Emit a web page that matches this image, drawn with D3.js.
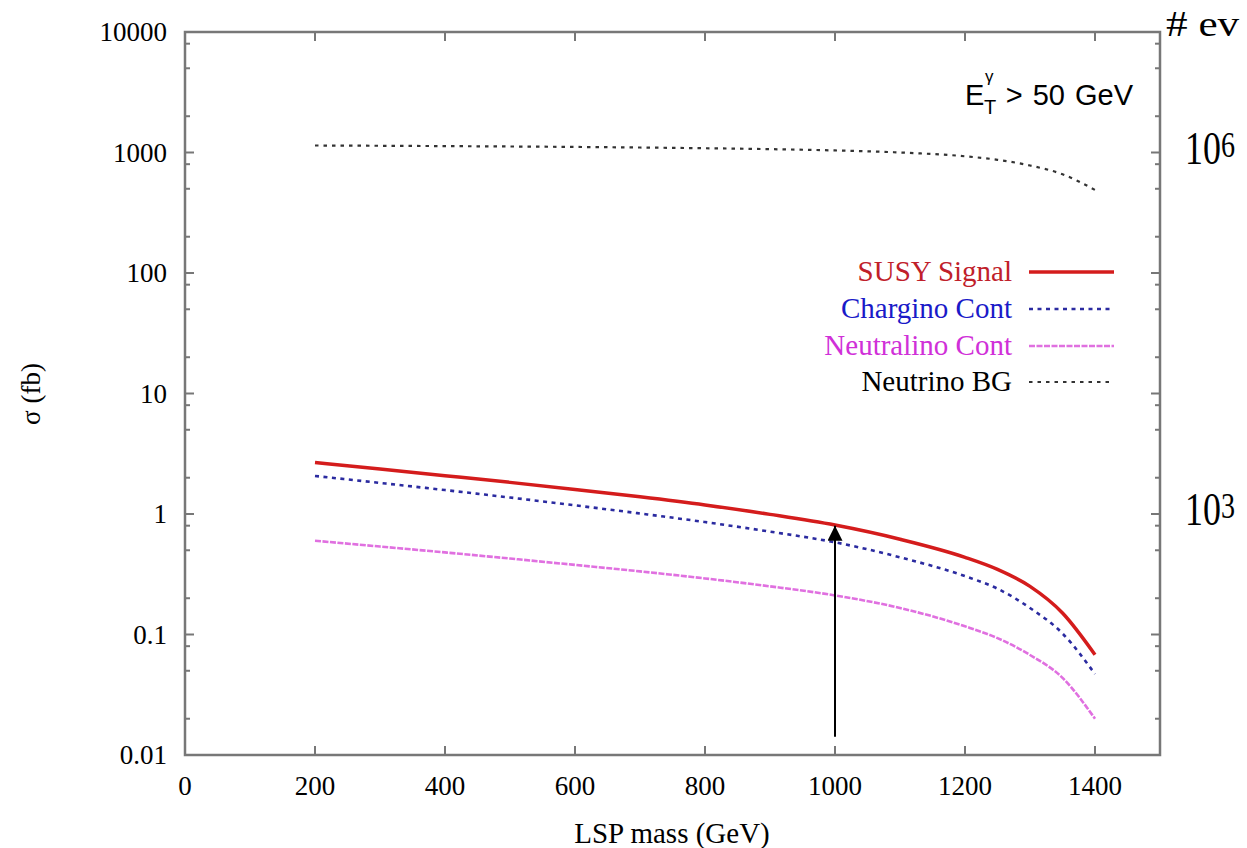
<!DOCTYPE html>
<html>
<head>
<meta charset="utf-8">
<script src="https://cdn.jsdelivr.net/npm/d3@7"></script>
<style>
  body { margin: 0; background: #fff; }
  svg { display: block; }
  text { font-family: "Liberation Serif", "Times New Roman", serif; fill: #000; }
</style>
</head>
<body>
<div id="container"></div>
<script>
// LSP mass grid (GeV)
const masses = [200, 300, 400, 500, 600, 700, 800, 900, 1000, 1100, 1200, 1250, 1300, 1350, 1400];
// cross sections (fb)
const susySignal  = [2.67, 2.36, 2.08, 1.83, 1.60, 1.39, 1.19, 0.993, 0.809, 0.617, 0.437, 0.347, 0.251, 0.151, 0.068];
const charginoCont = [2.07, 1.81, 1.58, 1.37, 1.18, 1.01, 0.857, 0.714, 0.582, 0.437, 0.305, 0.240, 0.166, 0.102, 0.047];
const neutralinoCont = [0.600, 0.537, 0.480, 0.427, 0.378, 0.334, 0.292, 0.251, 0.211, 0.166, 0.117, 0.0933, 0.0676, 0.0437, 0.020];
const neutrinoBG = [1143, 1137, 1130, 1122, 1112, 1100, 1085, 1066, 1040, 1000, 930, 870, 780, 660, 489];

const xTicks = [0, 200, 400, 600, 800, 1000, 1200, 1400];
const yTicks = [0.01, 0.1, 1, 10, 100, 1000, 10000];
const yTickLabels = ["0.01", "0.1", "1", "10", "100", "1000", "10000"];
const minorMult = [2, 5, 8];
const rightLabels = [{ v: 1000, base: "10", exp: "6" }, { v: 1, base: "10", exp: "3" }];

const legendNames = ["SUSY Signal", "Chargino Cont", "Neutralino Cont", "Neutrino BG"];

// arrow marking the 1 TeV point
const arrowMass = 1000, arrowFrom = 0.0142, arrowTo = 0.8;

const W = 1247, H = 848;
const pL = 185, pR = 1160, pT = 32, pB = 755;

const x = d3.scaleLinear().domain([0, 1500]).range([pL, pR]);
const y = d3.scaleLog().domain([0.01, 10000]).range([pB, pT]);

const svg = d3.select("#container").append("svg")
  .attr("width", W).attr("height", H);

svg.append("defs").html(
  '<marker id="ahead" viewBox="0 0 10 10" refX="10" refY="5" markerWidth="7.5" markerHeight="7.5" markerUnits="strokeWidth" orient="auto">' +
  '<path d="M0,0 L10,5 L0,10 z" fill="#000"/></marker>'
);

// frame
const axisCol = "#777";
svg.append("rect")
  .attr("x", pL).attr("y", pT)
  .attr("width", pR - pL).attr("height", pB - pT)
  .attr("fill", "none").attr("stroke", axisCol).attr("stroke-width", 2.5);

// x ticks (bottom & top, inward)
xTicks.slice(1).forEach(t => {
  svg.append("line").attr("x1", x(t)).attr("x2", x(t)).attr("y1", pB).attr("y2", pB - 9)
    .attr("stroke", axisCol).attr("stroke-width", 2);
  svg.append("line").attr("x1", x(t)).attr("x2", x(t)).attr("y1", pT).attr("y2", pT + 9)
    .attr("stroke", axisCol).attr("stroke-width", 2);
});
svg.selectAll(".xlab").data(xTicks).enter().append("text")
  .attr("x", d => x(d)).attr("y", 795)
  .attr("text-anchor", "middle").style("font-size", "27px")
  .text(d => d);

// y ticks: majors + minors at 2,5,8 per decade, both sides
const minors = [];
yTicks.slice(0, -1).forEach(v => minorMult.forEach(m => minors.push(v * m)));
yTicks.forEach(v => {
  [[pL, pL + 9], [pR, pR - 9]].forEach(p => {
    svg.append("line").attr("x1", p[0]).attr("x2", p[1]).attr("y1", y(v)).attr("y2", y(v))
      .attr("stroke", axisCol).attr("stroke-width", 2);
  });
});
minors.forEach(v => {
  [[pL, pL + 5], [pR, pR - 5]].forEach(p => {
    svg.append("line").attr("x1", p[0]).attr("x2", p[1]).attr("y1", y(v)).attr("y2", y(v))
      .attr("stroke", axisCol).attr("stroke-width", 2);
  });
});
svg.selectAll(".ylab").data(yTicks).enter().append("text")
  .attr("x", 167).attr("y", d => y(d) + 9)
  .attr("text-anchor", "end").style("font-size", "27px")
  .text((d, i) => yTickLabels[i]);

// axis titles
svg.append("text").attr("x", 672).attr("y", 843)
  .attr("text-anchor", "middle").style("font-size", "29px")
  .text("LSP mass (GeV)");
svg.append("text")
  .attr("transform", "translate(40,394) rotate(-90)")
  .attr("text-anchor", "middle").style("font-size", "27px")
  .text("σ (fb)");

// right side labels
svg.append("text").attr("transform", "translate(1166,36) scale(1.2,1)")
  .style("font-size", "36px").text("# ev");
rightLabels.forEach(r => {
  const t = svg.append("text")
    .attr("transform", "translate(1185," + (y(r.v) + 11) + ") scale(0.78,1)")
    .style("font-size", "46px");
  t.append("tspan").text(r.base);
  t.append("tspan").attr("dy", -7).style("font-size", "36px").text(r.exp);
});

// cut annotation
const sans = "'Liberation Sans', Arial, sans-serif";
svg.append("text").attr("x", 965).attr("y", 105).style("font-size", "29px").style("font-family", sans).text("E");
svg.append("text").attr("x", 985).attr("y", 82).style("font-size", "17px").style("font-family", sans).text("γ");
svg.append("text").attr("x", 984).attr("y", 114).style("font-size", "20px").style("font-family", sans).text("T");
svg.append("text").attr("x", 1133).attr("y", 105).attr("text-anchor", "end")
  .style("font-size", "29px").style("font-family", sans).style("word-spacing", "2px").text("> 50 GeV");

// curves
const series = [
  { name: legendNames[0], vals: susySignal, color: "#d41c1c", width: 3.5, dash: null, text: "#c0202a" },
  { name: legendNames[1], vals: charginoCont, color: "#2b2ba0", width: 2.6, dash: "4,4.5", text: "#1a1ac8" },
  { name: legendNames[2], vals: neutralinoCont, color: "#e070e0", width: 2.6, dash: "6,1.5", text: "#d030d8" },
  { name: legendNames[3], vals: neutrinoBG, color: "#333", width: 2.2, dash: "3.5,5", text: "#000" }
];

const line = d3.line()
  .x(d => x(d[0]))
  .y(d => y(d[1]))
  .curve(d3.curveMonotoneX);

series.slice().reverse().forEach(s => {
  svg.append("path")
    .datum(masses.map((m, i) => [m, s.vals[i]]))
    .attr("d", line)
    .attr("fill", "none")
    .attr("stroke", s.color)
    .attr("stroke-width", s.width)
    .attr("stroke-dasharray", s.dash);
});

// legend
const legY = [272, 309, 346, 382];
series.forEach((s, i) => {
  svg.append("text").attr("x", 1012).attr("y", legY[i] + 9)
    .attr("text-anchor", "end").style("font-size", "29px")
    .style("fill", s.text).text(s.name);
  svg.append("line").attr("x1", 1029).attr("x2", 1114)
    .attr("y1", legY[i]).attr("y2", legY[i])
    .attr("stroke", s.color).attr("stroke-width", s.width)
    .attr("stroke-dasharray", s.dash);
});

// arrow
svg.append("line")
  .attr("x1", x(arrowMass)).attr("x2", x(arrowMass))
  .attr("y1", y(arrowFrom)).attr("y2", y(arrowTo))
  .attr("stroke", "#000").attr("stroke-width", 2)
  .attr("marker-end", "url(#ahead)");
</script>
</body>
</html>
